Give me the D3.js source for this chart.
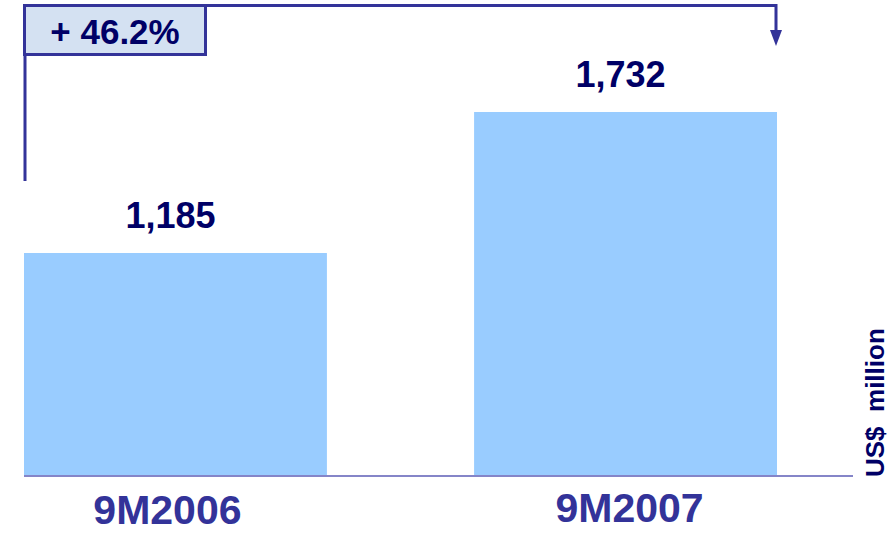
<!DOCTYPE html>
<html>
<head>
<meta charset="utf-8">
<script src="https://cdn.jsdelivr.net/npm/d3@7"></script>
<style>
  body { margin: 0; background: #fff; }
  text { font-family: "Liberation Sans", Arial, sans-serif; font-weight: bold; }
</style>
</head>
<body>
<svg id="chart" width="896" height="534"></svg>
<script>
// data
var categories = ['9M2006', '9M2007'];
var values = [1185, 1732];
var growthLabel = '+ 46.2%';
var unitLabel = 'US$  million';

var svg = d3.select('#chart');

// bars do not start at zero in the original
var yScale = d3.scaleLinear().domain([320, 1732]).range([476, 112]);
var xScale = d3.scaleBand().domain(categories).range([24, 777]).paddingInner(0.327).paddingOuter(0);

var data = categories.map(function(c, i) { return {cat: c, value: values[i]}; });

// bars
svg.selectAll('.bar')
    .data(data)
    .enter()
    .append('rect')
    .attr('class', 'bar')
    .attr('x', function(d) { return xScale(d.cat); })
    .attr('y', function(d) { return yScale(d.value); })
    .attr('width', xScale.bandwidth())
    .attr('height', function(d) { return yScale(320) - yScale(d.value); })
    .attr('fill', '#99ccff');

// baseline
svg.append('line')
    .attr('x1', 24).attr('x2', 853)
    .attr('y1', yScale(320)).attr('y2', yScale(320))
    .attr('stroke', '#8585c8')
    .attr('stroke-width', 2);

// value labels
svg.selectAll('.val')
    .data(data)
    .enter()
    .append('text')
    .attr('class', 'val')
    .attr('x', function(d) { return xScale(d.cat) + xScale.bandwidth() / 2 - 5; })
    .attr('y', function(d) { return yScale(d.value) - 25; })
    .attr('text-anchor', 'middle')
    .attr('font-size', 36)
    .attr('fill', '#000066')
    .text(function(d) { return d3.format(',')(d.value); });

// category labels
svg.selectAll('.cat')
    .data(data)
    .enter()
    .append('text')
    .attr('class', 'cat')
    .attr('x', function(d, i) { return xScale(d.cat) + xScale.bandwidth() / 2 + (i ? 4 : -8); })
    .attr('y', function(d, i) { return i ? 522 : 524; })
    .attr('text-anchor', 'middle')
    .attr('font-size', 41)
    .attr('fill', '#333399')
    .text(function(d) { return d.cat; });

// growth bracket
var bx = xScale(categories[0]) + 1;
var ex = xScale(categories[1]) + xScale.bandwidth() - 1;
svg.append('path')
    .attr('d', 'M' + bx + ',181 L' + bx + ',5.5 L' + ex + ',5.5 L' + ex + ',32')
    .attr('fill', 'none')
    .attr('stroke', '#333399')
    .attr('stroke-width', 3);
svg.append('path')
    .attr('d', 'M' + (ex - 6) + ',30 L' + (ex + 6) + ',30 L' + ex + ',46 Z')
    .attr('fill', '#333399');

svg.append('rect')
    .attr('x', 24.5).attr('y', 5.5)
    .attr('width', 181).attr('height', 49)
    .attr('fill', '#d4e1f2')
    .attr('stroke', '#333399')
    .attr('stroke-width', 3);
svg.append('text')
    .attr('x', 115)
    .attr('y', 44)
    .attr('text-anchor', 'middle')
    .attr('font-size', 35)
    .attr('fill', '#000066')
    .text(growthLabel);

// unit label
svg.append('text')
    .attr('transform', 'translate(884,477) rotate(-90)')
    .attr('font-size', 26)
    .attr('fill', '#000066')
    .style('white-space', 'pre')
    .text(unitLabel);
</script>
</body>
</html>
